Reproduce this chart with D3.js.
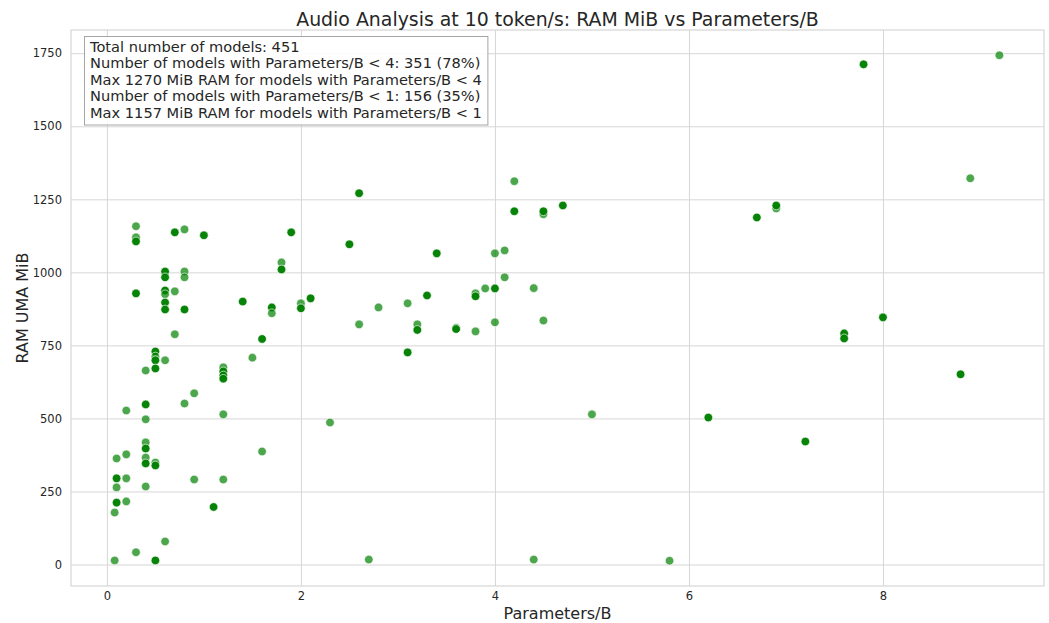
<!DOCTYPE html>
<html>
<head>
<meta charset="utf-8">
<script src="https://cdn.jsdelivr.net/npm/d3@7"></script>
<style>
  html, body { margin: 0; padding: 0; background: #fff; }
  svg { display: block; font-family: 'DejaVu Sans', sans-serif; }
</style>
</head>
<body>
<div id="chart"></div>
<script>
(function () {
  'use strict';

  // Values. "count" = how many models stack on that spot (darker dot).
  var paramsB = [
    0.08, 0.08, 0.1, 0.1, 0.1, 0.1, 0.2, 0.2, 0.2, 0.2,
    0.3, 0.3, 0.3, 0.3, 0.3, 0.4, 0.4, 0.4, 0.4, 0.4, 0.4, 0.4, 0.4,
    0.5, 0.5, 0.5, 0.5, 0.5, 0.5, 0.5,
    0.6, 0.6, 0.6, 0.6, 0.6, 0.6, 0.6, 0.6,
    0.7, 0.7, 0.7, 0.8, 0.8, 0.8, 0.8, 0.8, 0.9, 0.9, 1.0, 1.1,
    1.2, 1.2, 1.2, 1.2, 1.2, 1.2, 1.4, 1.5, 1.6, 1.6, 1.7, 1.7, 1.8, 1.8, 1.9,
    2.0, 2.0, 2.1, 2.3, 2.5, 2.6, 2.6, 2.7, 2.8, 3.1, 3.1, 3.2, 3.2, 3.3, 3.4,
    3.6, 3.6, 3.8, 3.8, 3.8, 3.9, 4.0, 4.0, 4.0, 4.1, 4.1, 4.2, 4.2, 4.4, 4.4,
    4.5, 4.5, 4.5, 4.7, 5.0, 5.8, 6.2, 6.7, 6.9, 6.9, 7.2, 7.6, 7.6, 7.8, 8.0, 8.8, 8.9, 9.2
  ];
  var ramMiB = [
    178, 14, 363, 295, 264, 212, 527, 377, 295, 216,
    1158, 1120, 1106, 928, 42, 664, 548, 497, 418, 397, 366, 346, 267,
    729, 712, 699, 671, 349, 339, 14,
    1003, 983, 938, 925, 897, 873, 699, 79,
    1137, 935, 788, 1147, 1003, 983, 873, 551, 586, 291, 1127, 197,
    675, 661, 647, 636, 514, 291, 900, 708, 772, 387, 880, 860, 1034, 1010, 1137,
    894, 877, 911, 486, 1096, 1271, 822, 17, 880, 894, 726, 822, 803, 921, 1065,
    810, 806, 928, 918, 798, 945, 1065, 945, 829, 1075, 983, 1312, 1209, 946, 17,
    1199, 1209, 835, 1229, 514, 13, 503, 1188, 1219, 1229, 421, 791, 774, 1712, 846, 651, 1322, 1743
  ];
  var count = [
    1, 1, 1, 3, 1, 3, 1, 1, 1, 1,
    1, 1, 3, 3, 1, 1, 3, 1, 1, 3, 1, 3, 1,
    3, 1, 3, 3, 1, 3, 3,
    3, 3, 3, 1, 3, 3, 1, 1,
    3, 1, 1, 1, 1, 1, 3, 1, 1, 1, 3, 3,
    1, 3, 3, 3, 1, 1, 3, 1, 3, 1, 3, 1, 1, 3, 3,
    1, 3, 3, 1, 3, 3, 1, 1, 1, 1, 3, 1, 3, 3, 3,
    1, 3, 1, 3, 1, 1, 1, 3, 1, 1, 1, 1, 3, 1, 1,
    1, 3, 1, 3, 1, 1, 3, 3, 1, 3, 3, 3, 3, 3, 3, 3, 1, 1
  ];
  var xTicks = [0, 2, 4, 6, 8];
  var yTicks = [0, 250, 500, 750, 1000, 1250, 1500, 1750];
  var noteLines = [
    'Total number of models: 451',
    'Number of models with Parameters/B < 4: 351 (78%)',
    'Max 1270 MiB RAM for models with Parameters/B < 4',
    'Number of models with Parameters/B < 1: 156 (35%)',
    'Max 1157 MiB RAM for models with Parameters/B < 1'
  ];

  var width = 1049, height = 623;
  var plot = { left: 71, right: 1044, top: 30, bottom: 586 };
  var textColor = '#262626';
  var gridColor = '#d6d6d6';

  var x = d3.scaleLinear().domain([-0.37, 9.66]).range([plot.left, plot.right]);
  var y = d3.scaleLinear().domain([-73.5, 1829.5]).range([plot.bottom, plot.top]);

  var svg = d3.select('#chart').append('svg').attr('width', width).attr('height', height);

  // Grid
  svg.append('g').attr('transform', 'translate(0,' + plot.bottom + ')')
    .call(d3.axisBottom(x).tickValues(xTicks).tickSize(-(plot.bottom - plot.top)).tickPadding(6).tickFormat(d3.format('d')))
    .call(function (g) {
      g.select('.domain').remove();
      g.selectAll('.tick line').attr('stroke', gridColor).attr('stroke-width', 1);
      g.selectAll('.tick text').attr('fill', textColor).attr('font-size', 11.5)
        .attr('font-family', "'DejaVu Sans', sans-serif");
    });
  svg.append('g').attr('transform', 'translate(' + plot.left + ',0)')
    .call(d3.axisLeft(y).tickValues(yTicks).tickSize(-(plot.right - plot.left)).tickPadding(9).tickFormat(d3.format('d')))
    .call(function (g) {
      g.select('.domain').remove();
      g.selectAll('.tick line').attr('stroke', gridColor).attr('stroke-width', 1);
      g.selectAll('.tick text').attr('fill', textColor).attr('font-size', 11.5)
        .attr('font-family', "'DejaVu Sans', sans-serif");
    });

  // Frame
  svg.append('rect').attr('x', plot.left).attr('y', plot.top)
    .attr('width', plot.right - plot.left).attr('height', plot.bottom - plot.top)
    .attr('fill', 'none').attr('stroke', gridColor).attr('stroke-width', 1.2);

  // Points
  var pts = paramsB.map(function (p, i) { return { p: p, r: ramMiB[i], n: count[i] }; });
  svg.append('g').selectAll('circle').data(pts).join('circle')
    .attr('cx', function (d) { return x(d.p); })
    .attr('cy', function (d) { return y(d.r); })
    .attr('r', 4.3)
    .attr('fill', 'green')
    .attr('fill-opacity', function (d) { return 1 - Math.pow(0.3, d.n); })
    .attr('stroke', '#fff').attr('stroke-opacity', 0.8).attr('stroke-width', 0.8);

  // Summary box
  var note = svg.append('g');
  var box = note.append('rect').attr('fill', '#fff').attr('fill-opacity', 0.9)
    .attr('stroke', '#a6a6a6').attr('stroke-width', 1);
  var noteText = note.append('text').attr('fill', textColor).attr('font-size', 14.6);
  noteLines.forEach(function (line, i) {
    noteText.append('tspan').attr('x', 90).attr('y', 52 + i * 16.4).text(line);
  });
  var bb = noteText.node().getBBox();
  box.attr('x', 84.5).attr('y', 36.5).attr('width', bb.x + bb.width + 6 - 84.5).attr('height', 125 - 36.5);

  // Titles
  svg.append('text').attr('x', (plot.left + plot.right) / 2).attr('y', 26)
    .attr('text-anchor', 'middle').attr('fill', textColor).attr('font-size', 18.9)
    .text('Audio Analysis at 10 token/s: RAM MiB vs Parameters/B');
  svg.append('text').attr('x', (plot.left + plot.right) / 2).attr('y', 619)
    .attr('text-anchor', 'middle').attr('fill', textColor).attr('font-size', 16)
    .text('Parameters/B');
  svg.append('text').attr('transform', 'translate(28,' + (plot.top + plot.bottom) / 2 + ') rotate(-90)')
    .attr('text-anchor', 'middle').attr('fill', textColor).attr('font-size', 16)
    .text('RAM UMA MiB');
})();
</script>
</body>
</html>
